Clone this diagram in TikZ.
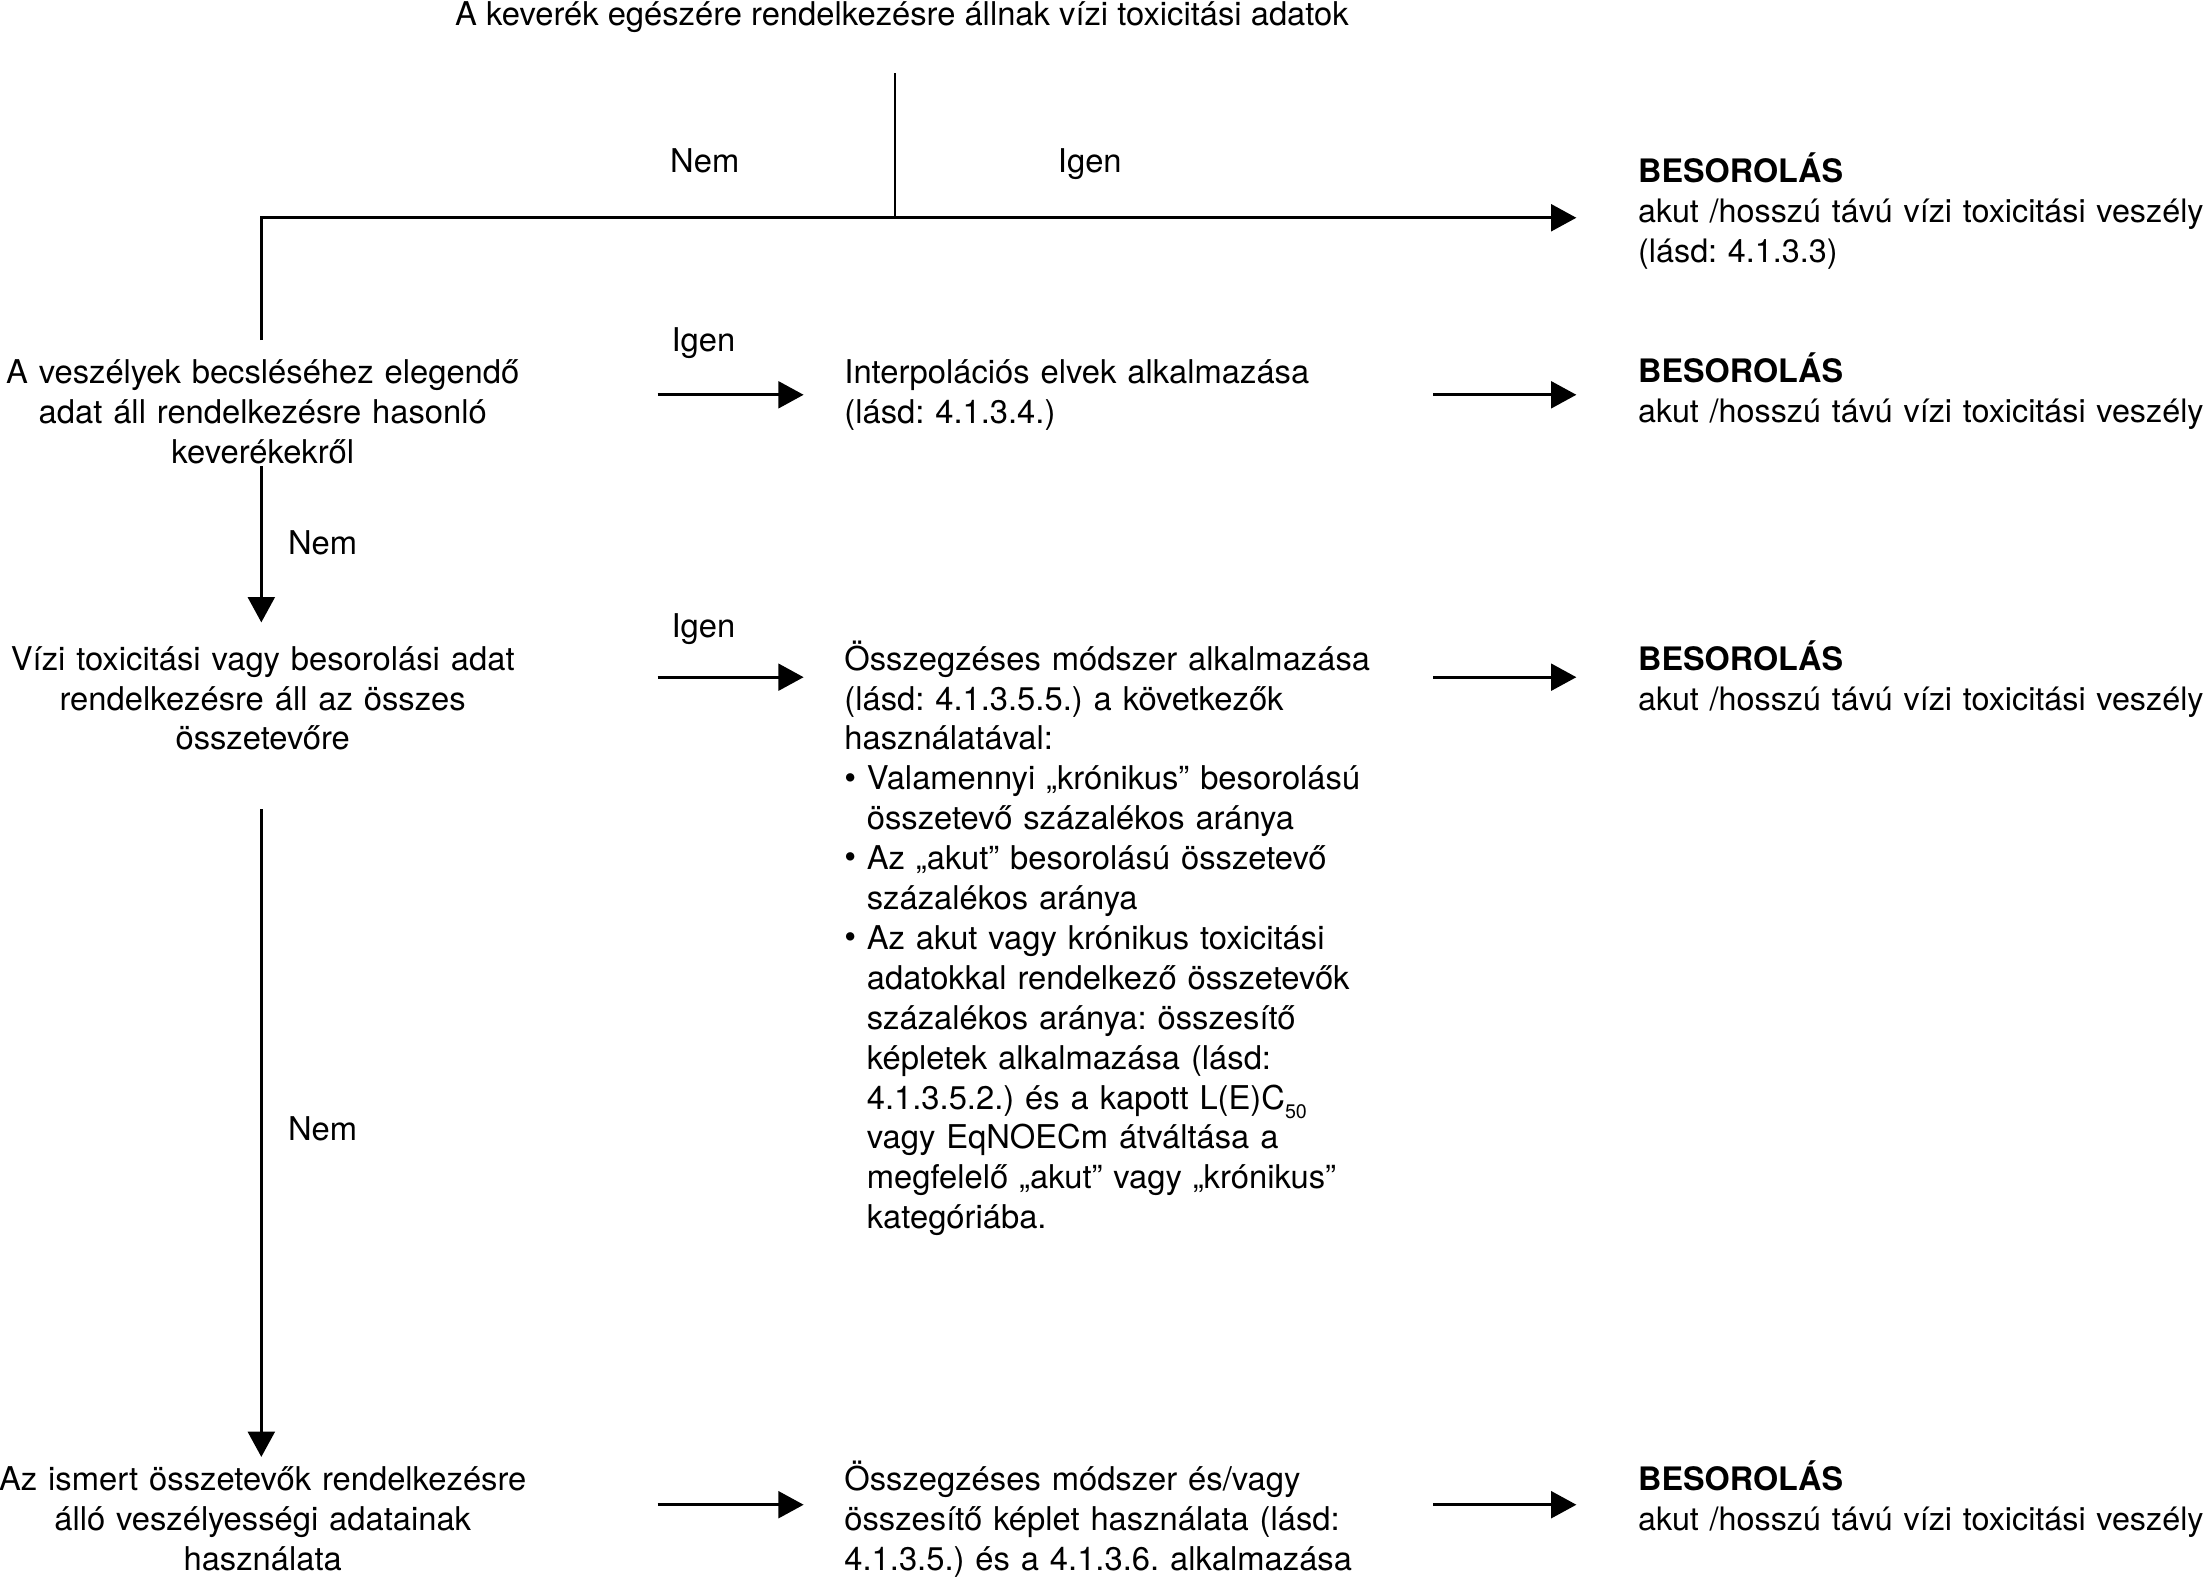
\documentclass[tikz,border=0pt]{standalone}
\usepackage{fontspec}
\setmainfont{TeX Gyre Heros}
\usetikzlibrary{arrows.meta}
\frenchspacing
\newcommand\fl{\rule{0pt}{12pt}}
\newcommand\bul{\makebox[8pt][l]{\raisebox{0.3pt}{\large •}}}
\newcommand\ind{\hspace*{8pt}}
\begin{document}
\begin{tikzpicture}[x=0.5pt,y=-0.5pt,
  txt/.style={inner sep=0pt, outer sep=0pt, font=\fontsize{11.65pt}{14.2pt}\selectfont\frenchspacing},
  ctxt/.style={txt, anchor=north, align=center, text width=200pt},
  ltxt/.style={txt, anchor=north west, align=left, text width=300pt},
  rtxt/.style={ltxt, font=\fontsize{11.5pt}{14.2pt}\selectfont\frenchspacing},
  lab/.style={txt, anchor=base west},
  ln/.style={line width=1pt},
  arr/.style={line width=1.1pt, -{Triangle[length=9pt,width=9.5pt]}},
]
\useasboundingbox (0,0) rectangle (1568,1123);

% title
\node[txt, anchor=base] (title) at (642,18) {A keverék egészére rendelkezésre állnak vízi toxicitási adatok};

% left column
\node[ctxt] (q1) at (187,249) {\fl A veszélyek becsléséhez elegendő\\adat áll rendelkezésre hasonló\\keverékekről};
\node[ctxt] (q2) at (187,453) {\fl Vízi toxicitási vagy besorolási adat\\rendelkezésre áll az összes\\összetevőre};
\node[ctxt] (q3) at (187,1037) {\fl Az ismert összetevők rendelkezésre\\álló veszélyességi adatainak\\használata};

% middle column
\node[ltxt] (m1) at (601,249) {\fl Interpolációs elvek alkalmazása\\(lásd: 4.1.3.4.)};
\node[ltxt] (m2) at (601,453) {\fl Összegzéses módszer alkalmazása\\(lásd: 4.1.3.5.5.) a következők\\használatával:\\
\bul Valamennyi „krónikus” besorolású\\\ind összetevő százalékos aránya\\
\bul Az „akut” besorolású összetevő\\\ind százalékos aránya\\
\bul Az akut vagy krónikus toxicitási\\\ind adatokkal rendelkező összetevők\\\ind százalékos aránya: összesítő\\\ind képletek alkalmazása (lásd:\\\ind 4.1.3.5.2.) és a kapott L(E)C\raisebox{-3.5pt}{\fontsize{7pt}{7pt}\selectfont 50}\\\ind vagy EqNOECm átváltása a\\\ind megfelelő „akut” vagy „krónikus”\\\ind kategóriába.};
\node[ltxt] (m3) at (601,1037) {\fl Összegzéses módszer és/vagy\\összesítő képlet használata (lásd:\\4.1.3.5.) és a 4.1.3.6. alkalmazása};

% right column
\node[rtxt] (r0) at (1166,106) {\fl\textbf{BESOROLÁS}\\akut /hosszú távú vízi toxicitási veszély\\(lásd: 4.1.3.3)};
\node[rtxt] (r1) at (1166,248) {\fl\textbf{BESOROLÁS}\\akut /hosszú távú vízi toxicitási veszély};
\node[rtxt] (r2) at (1166,453) {\fl\textbf{BESOROLÁS}\\akut /hosszú távú vízi toxicitási veszély};
\node[rtxt] (r3) at (1166,1037) {\fl\textbf{BESOROLÁS}\\akut /hosszú távú vízi toxicitási veszély};

% labels
\node[lab] (n0) at (477,123) {Nem};
\node[lab] (i0) at (753,123) {Igen};
\node[lab] (i1) at (478,250) {Igen};
\node[lab] (n1) at (205,395) {Nem};
\node[lab] (i2) at (478,454) {Igen};
\node[lab] (n2) at (205,812) {Nem};

% connector points
\coordinate (jt) at (637,52);
\coordinate (jb) at (637,155);
\coordinate (c0) at (186,155);
\coordinate (q1t) at (186,242);
\coordinate (t0) at (1122,155);
\coordinate (a1s) at (468,281);
\coordinate (a1e) at (572,281);
\coordinate (b1s) at (1020,281);
\coordinate (b1e) at (1122,281);
\coordinate (a2s) at (468,482);
\coordinate (a2e) at (572,482);
\coordinate (b2s) at (1020,482);
\coordinate (b2e) at (1122,482);
\coordinate (a3s) at (468,1071);
\coordinate (a3e) at (572,1071);
\coordinate (b3s) at (1020,1071);
\coordinate (b3e) at (1122,1071);
\coordinate (v1s) at (186,332);
\coordinate (v1e) at (186,443);
\coordinate (v2s) at (186,576);
\coordinate (v2e) at (186,1037);

% connectors
\draw[ln] (jt) -- (jb);
\draw[arr] (q1t) -- (c0) -- (t0);
\draw[arr] (a1s) -- (a1e);
\draw[arr] (b1s) -- (b1e);
\draw[arr] (a2s) -- (a2e);
\draw[arr] (b2s) -- (b2e);
\draw[arr] (a3s) -- (a3e);
\draw[arr] (b3s) -- (b3e);
\draw[arr] (v1s) -- (v1e);
\draw[arr] (v2s) -- (v2e);
\end{tikzpicture}
\end{document}
